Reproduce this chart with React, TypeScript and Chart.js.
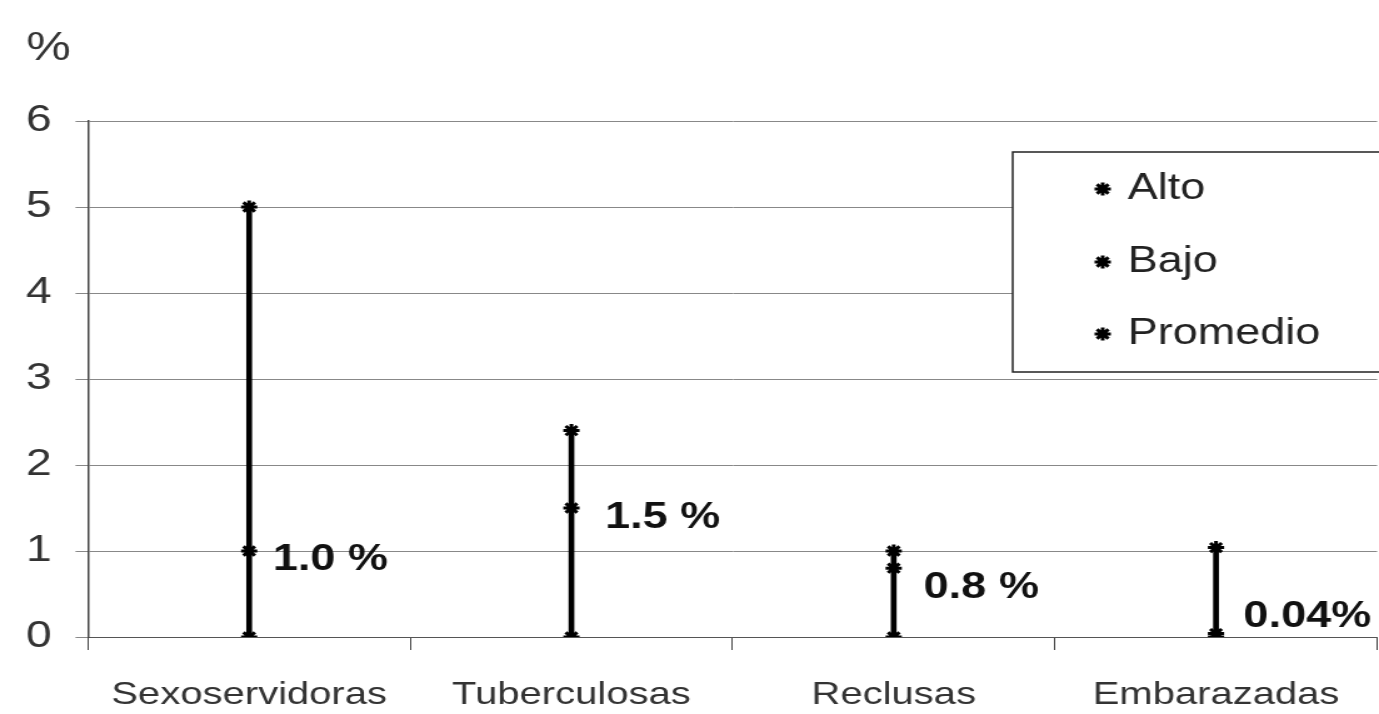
import React, { useEffect, useRef } from 'react';
import { Chart, registerables } from 'chart.js';
import { drawPoint } from 'chart.js/helpers';

Chart.register(...registerables);

// ---- data ----
const categories = ['Sexoservidoras', 'Tuberculosas', 'Reclusas', 'Embarazadas'];
const alto = [5.0, 2.4, 1.0, 1.04];
const bajo = [0, 0, 0, 0];
const promedio = [1.0, 1.5, 0.8, 0.04];
const promedioLabels = ['1.0 %', '1.5 %', '0.8 %', '0.04%'];
const yMin = 0;
const yMax = 6;
const yStep = 1;
const yTitle = '%';

// ---- geometry (the scanned original is stretched horizontally) ----
const SX = 1.25;
const W = 1379;
const H = 714;
const IW = Math.round(W / SX);
const FONT = "'Liberation Sans', Arial, Helvetica, sans-serif";
const MARK_R = 6.5;
const MARK_BW = 3;

const decoPlugin = {
  id: 'deco',
  afterDraw(chart: any, _args: any, opts: any) {
    const ctx = chart.ctx;
    ctx.save();
    // y title "%"
    ctx.fillStyle = '#333';
    ctx.font = `40px ${FONT}`;
    ctx.textAlign = 'left';
    ctx.textBaseline = 'alphabetic';
    ctx.fillText(yTitle, 21, 60);

    // annotations next to Promedio points
    const meta = chart.getDatasetMeta(2);
    ctx.fillStyle = '#111';
    ctx.font = `bold 36px ${FONT}`;
    ctx.textBaseline = 'middle';
    meta.data.forEach((pt: any, i: number) => {
      const off = opts.offsets[i] || [20, 0];
      ctx.fillText(promedioLabels[i], pt.x + off[0], pt.y + off[1]);
    });

    // legend box
    const lx = 810, ly = 152, lw = 320, lh = 220;
    ctx.fillStyle = '#fff';
    ctx.fillRect(lx, ly, lw, lh);
    ctx.strokeStyle = '#222';
    ctx.lineWidth = 1.5;
    ctx.strokeRect(lx, ly, lw, lh);
    const ys = [189, 262, 334];
    ctx.font = `36px ${FONT}`;
    for (let i = 0; i < 3; i++) {
      const ds = chart.data.datasets[i];
      ctx.strokeStyle = '#000';
      ctx.fillStyle = '#000';
      ctx.lineWidth = MARK_BW;
      drawPoint(ctx, { pointStyle: 'star', radius: MARK_R, rotation: 0, borderWidth: MARK_BW }, 882, ys[i]);
      ctx.fillStyle = '#222';
      ctx.fillText(ds.label, 902, ys[i]);
    }
    ctx.restore();
  },
};

export default function App() {
  const ref = useRef<HTMLCanvasElement | null>(null);

  useEffect(() => {
    document.body.style.margin = '0';
    const canvas = ref.current!;
    Chart.defaults.font.family = FONT;
    const pointDs = (label: string, data: number[]) => ({
      type: 'line' as const,
      label,
      data,
      showLine: false,
      pointStyle: 'star',
      pointRadius: MARK_R,
      pointBorderWidth: MARK_BW,
      pointBorderColor: '#000',
      pointBackgroundColor: '#000',
      borderColor: '#000',
      backgroundColor: '#000',
    });
    const chart = new Chart(canvas, {
      type: 'bar',
      data: {
        labels: categories,
        datasets: [
          pointDs('Alto', alto),
          pointDs('Bajo', bajo),
          pointDs('Promedio', promedio),
          {
            type: 'bar',
            label: 'Rango',
            data: categories.map((_, i) => [bajo[i], alto[i]]),
            backgroundColor: '#000',
            borderWidth: 0,
            barThickness: 4,
          } as any,
        ],
      },
      options: {
        responsive: false,
        animation: false,
        events: [],
        devicePixelRatio: 1,
        layout: { autoPadding: false, padding: { top: 121, right: 1.5, left: 0, bottom: 0 } },
        plugins: {
          legend: { display: false },
          tooltip: { enabled: false },
          deco: { offsets: [[19, 9], [27, 10], [24, 20], [22, -16]] },
        } as any,
        scales: {
          x: {
            type: 'category',
            offset: true,
            grid: {
              offset: true,
              drawOnChartArea: false,
              drawTicks: true,
              tickLength: 13,
              color: '#444',
              lineWidth: 1,
            },
            border: { display: true, color: '#555', width: 1 },
            ticks: {
              font: { size: 32 },
              color: '#333',
              padding: 26,
              maxRotation: 0,
              autoSkip: false,
            },
            afterFit(scale: any) {
              scale.height = H - 637;
              scale.paddingLeft = 0;
              scale.paddingRight = 0;
            },
          },
          y: {
            min: yMin,
            max: yMax,
            ticks: {
              stepSize: yStep,
              font: { size: 37 },
              color: '#333',
              padding: 19,
            },
            grid: {
              color: '#888',
              lineWidth: 1,
              tickLength: 10,
            },
            border: { display: true, color: '#444', width: 1.5 },
            afterFit(scale: any) {
              scale.width = 88 / SX;
            },
          },
        },
      },
      plugins: [decoPlugin],
    });
    canvas.style.width = `${W}px`;
    canvas.style.height = `${H}px`;
    return () => chart.destroy();
  }, []);

  return (
    <div style={{ position: 'fixed', left: 0, top: 0, width: W, height: H, background: '#fff' }}>
      <canvas ref={ref} width={IW} height={H} style={{ width: `${W}px`, height: `${H}px`, display: 'block' }} />
    </div>
  );
}
